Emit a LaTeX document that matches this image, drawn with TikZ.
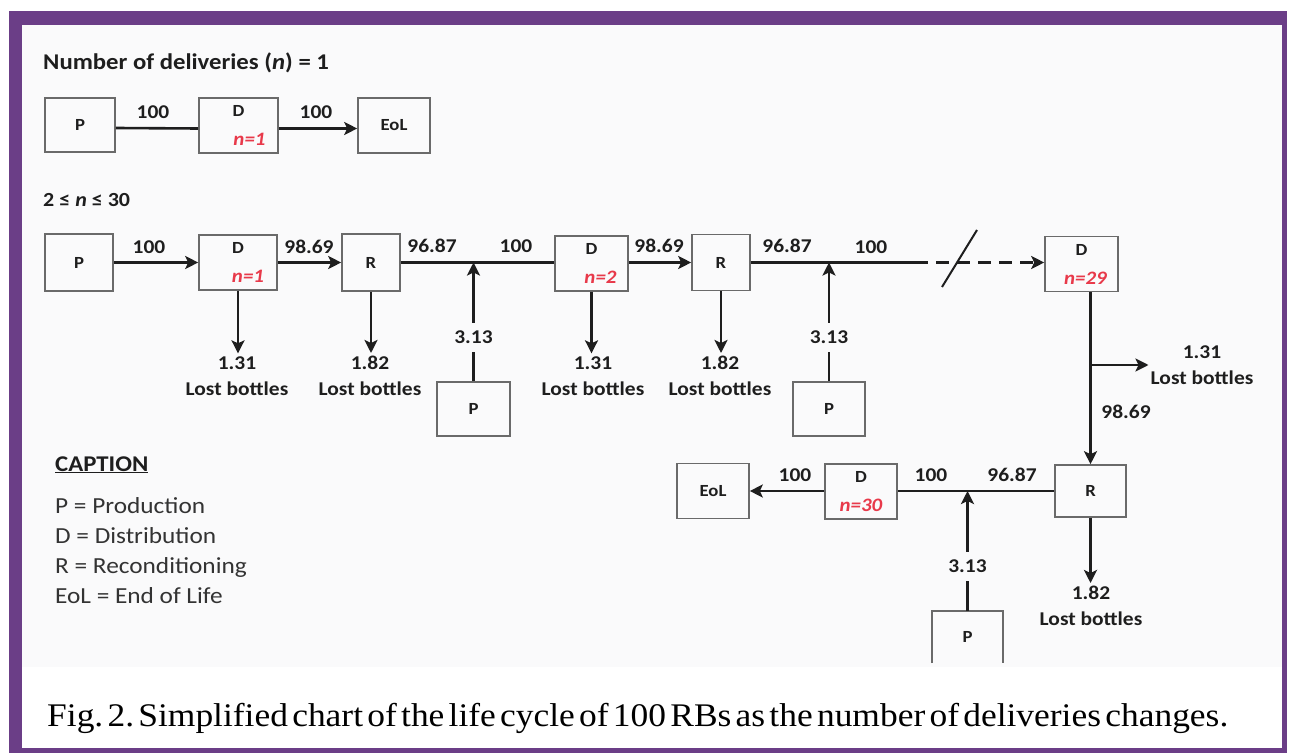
\documentclass[tikz,border=0pt]{standalone}
\usepackage{fontspec}
\usepackage{graphicx}
\usetikzlibrary{arrows.meta}
\newfontfamily\carl[FakeStretch=1.1]{Carlito}
\newfontfamily\capserif{Liberation Serif}
\definecolor{purp}{HTML}{6B3E87}
\definecolor{ink}{HTML}{1E1E1E}
\definecolor{boxgray}{HTML}{6A6A6A}
\definecolor{nred}{HTML}{E8394A}
\definecolor{bg}{HTML}{FAFAFB}
\definecolor{leggray}{HTML}{333333}
\newcommand\boxfont{\carl\bfseries\fontsize{17}{29}\selectfont}
\newcommand\lblfont{\carl\bfseries\fontsize{19.5}{26}\selectfont}
\newcommand\nlab[1]{\textcolor{nred}{\fontsize{19}{29}\selectfont\itshape #1}}
\tikzset{
  box/.style={draw=boxgray, line width=1.6pt, inner sep=0pt, align=center, font=\boxfont, text=ink},
  flow/.style={draw=ink, line width=2.6pt},
  arr/.style={flow, -{Stealth[length=13pt,width=13pt,inset=3pt]}},
  num/.style={font=\lblfont, text=ink, inner sep=1pt},
  lost/.style={font=\lblfont, align=center, text=ink, inner xsep=2pt, inner ysep=3pt},
  inlbl/.style={num, fill=bg, inner xsep=2pt, inner ysep=8pt, pos=0.37},
  legend/.style={anchor=base west, inner sep=0pt, text=leggray, font=\carl\fontsize{23}{30}\selectfont},
}
\begin{document}
\begin{tikzpicture}[x=1pt,y=-1pt]
\useasboundingbox (0,0) rectangle (1290,754);
% frame
\fill[purp] (9,11) rectangle (1287,753);
\fill[white] (22,25) rectangle (1282,748);
\fill[bg] (22,25) rectangle (1282,667);

% headings
\node[anchor=base west, inner sep=0pt, text=ink, font=\carl\bfseries\fontsize{22.5}{25}\selectfont] (t1) at (43,70) {Number of deliveries (\textit{n}) = 1};
\node[anchor=base west, inner sep=0pt, text=ink, font=\carl\bfseries\fontsize{20}{24}\selectfont] (t2) at (43,207) {2 ≤ \textit{n} ≤ 30};

% ---- row 1: n = 1
\node[box, minimum width=70pt, minimum height=54pt] (P1) at (80,125) {P};
\node[box, minimum width=79pt, minimum height=55pt] (D1) at (238.5,125.5) {D\\\hspace*{22pt}\nlab{n=1}};
\node[box, minimum width=72pt, minimum height=55pt] (E1) at (394,125.5) {EoL};
\draw[flow] ([yshift=-3pt]P1.east) -- ([yshift=-3pt]D1.west);
\draw[arr] ([yshift=-3pt]D1.east) -- ([yshift=-3pt]E1.west);
\node[num] (a1) at (153,112) {100};
\node[num] (a2) at (316,112) {100};

% ---- row 2
\node[box, minimum width=68pt, minimum height=57pt] (P2) at (79,262.5) {P};
\node[box, minimum width=78pt, minimum height=55pt] (D21) at (238,262.5) {D\\\hspace*{20pt}\nlab{n=1}};
\node[box, minimum width=58pt, minimum height=57pt] (R21) at (371,262.5) {R};
\node[box, minimum width=73pt, minimum height=55pt] (D22) at (591.5,263.5) {D\\\hspace*{18pt}\nlab{n=2}};
\node[box, minimum width=58pt, minimum height=56pt] (R22) at (721,262.5) {R};
\node[box, minimum width=73pt, minimum height=55pt] (D29) at (1081.5,264) {D\\\hspace*{8pt}\nlab{n=29}};

\node[box, minimum width=73pt, minimum height=54pt] (P3) at (473.5,409) {P};
\node[box, minimum width=72pt, minimum height=54pt] (P4) at (829,409) {P};

\coordinate (J1) at (P3.north |- R21.east);
\coordinate (J2) at (P4.north |- R22.east);
\coordinate (K) at (915,262.5);
\coordinate (s1) at (942,287);
\coordinate (s2) at (977,230);

\draw[arr] (P2) -- (D21);
\draw[arr] (D21) -- (R21);
\draw[flow] (R21.east) -- (D22.west |- R21.east);
\draw[arr] (P3.north) -- node[inlbl] (c1) {3.13} (J1);
\draw[arr] (D22.east |- R22.west) -- (R22.west);
\draw[flow] (R22.east) -- (K);
\draw[arr] (P4.north) -- node[inlbl] (c2) {3.13} (J2);
\draw[arr, dash pattern=on 13pt off 8pt] (K) -- (D29.west |- K);
\draw[ink, line width=2pt] (s1) -- (s2);

\node[num] (b1) at (149,247) {100};
\node[num] (b2) at (309,247) {98.69};
\node[num] (b3) at (432,246) {96.87};
\node[num] (b4) at (516,246) {100};
\node[num] (b5) at (659,246) {98.69};
\node[num] (b6) at (787,246) {96.87};
\node[num] (b7) at (871,247) {100};

% lost bottles, row 2
\node[lost] (L1) at (237,376) {1.31\\Lost bottles};
\node[lost] (L2) at (370,376) {1.82\\Lost bottles};
\node[lost] (L3) at (593,376) {1.31\\Lost bottles};
\node[lost] (L4) at (720,376) {1.82\\Lost bottles};
\draw[arr] (D21.south) -- (D21.south |- L1.north);
\draw[arr] (R21.south) -- (R21.south |- L2.north);
\draw[arr] (D22.south) -- (D22.south |- L3.north);
\draw[arr] (R22.south) -- (R22.south |- L4.north);

% ---- descending branch and row 3
\node[box, minimum width=71pt, minimum height=52pt] (R3) at (1090.5,491) {R};
\node[box, minimum width=72pt, minimum height=55pt] (D30) at (861,491.5) {D\\\nlab{n=30}};
\node[box, minimum width=72pt, minimum height=55pt] (E2) at (713,491) {EoL};
\node[inner sep=0pt, minimum width=71pt, minimum height=52pt, font=\boxfont, text=ink] (P5) at (967.5,637) {P};
\draw[boxgray, line width=1.6pt] (P5.south west) -- (P5.north west) -- (P5.north east) -- (P5.south east);

\node[lost] (L5) at (1202,365) {1.31\\Lost bottles};
\node[num] (b8) at (1126,412) {98.69};
\draw[arr] (D29.south -| R3.north) -- (R3.north);
\draw[arr] (R3.north |- L5.west) -- (L5.west);

\coordinate (J3) at (P5.north |- R3.west);
\draw[flow] (R3.west) -- (D30.east |- R3.west);
\draw[arr] (P5.north) -- node[inlbl] (c3) {3.13} (J3);
\draw[arr] (D30.west |- R3.west) -- (E2.east |- R3.west);
\node[num] (b9) at (795,475) {100};
\node[num] (b10) at (931,475) {100};
\node[num] (b11) at (1012,475) {96.87};

\node[lost] (L6) at (1091,606) {1.82\\Lost bottles};
\draw[arr] (R3.south) -- (R3.south |- L6.north);

% ---- legend
\node[anchor=base west, inner sep=0pt, text=ink, font=\carl\bfseries\fontsize{22.5}{25}\selectfont] (cap) at (55,471) {\underline{CAPTION}};
\node[legend] (g1) at (55,513) {P = Production};
\node[legend] (g2) at (55,543) {D = Distribution};
\node[legend] (g3) at (55,573) {R = Reconditioning};
\node[legend] (g4) at (55,603) {EoL = End of Life};

% ---- figure caption
\node[anchor=base west, inner sep=0pt, text=black] (fig) at (47,726) {\resizebox{1181pt}{\height}{\capserif\fontsize{33}{36}\selectfont\spaceskip=0.12em\xspaceskip=0.12em Fig. 2. Simplified chart of the life cycle of 100 RBs as the number of deliveries changes.}};
\end{tikzpicture}
\end{document}
